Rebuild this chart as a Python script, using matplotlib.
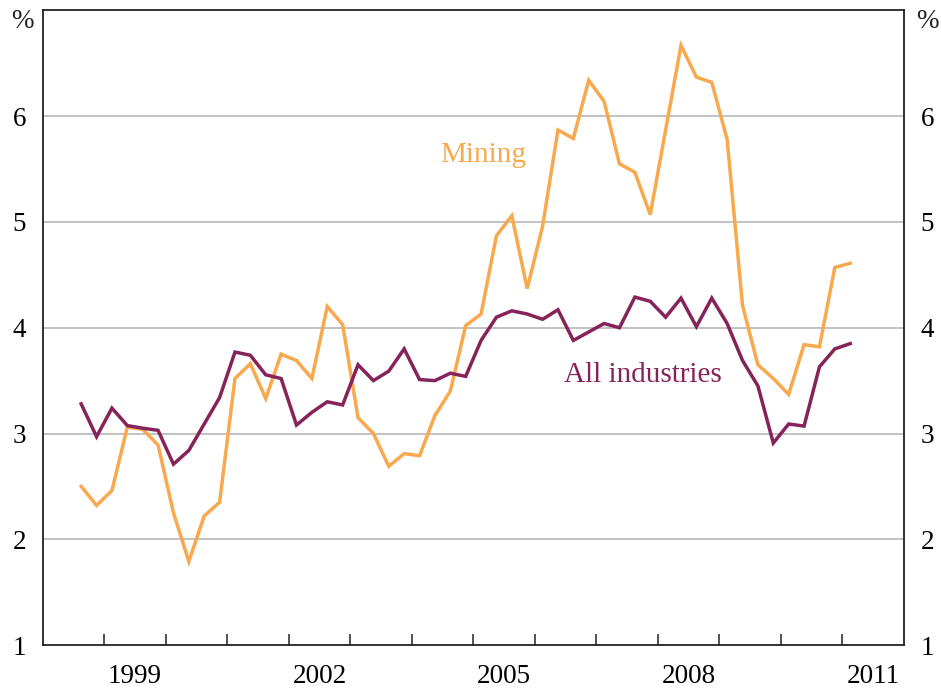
import matplotlib
matplotlib.use("Agg")
import matplotlib.pyplot as plt
import numpy as np
from matplotlib.ticker import FixedLocator, NullFormatter, FixedFormatter

# Quarterly data, 1998 Q3 to 2011 Q1 (plotted at quarter mid-points)
start_year = 1998.625
mining = [2.50, 2.32, 2.46, 3.06, 3.04, 2.89, 2.25, 1.79, 2.22, 2.35,
          3.52, 3.66, 3.33, 3.75, 3.69, 3.52, 4.20, 4.03, 3.15, 3.00,
          2.69, 2.81, 2.79, 3.17, 3.40, 4.02, 4.13, 4.87, 5.06, 4.37,
          4.96, 5.87, 5.79, 6.34, 6.14, 5.55, 5.47, 5.07, 5.87, 6.67,
          6.37, 6.32, 5.78, 4.21, 3.65, 3.52, 3.37, 3.84, 3.82, 4.57, 4.61]
all_industries = [3.28, 2.97, 3.24, 3.075, 3.05, 3.03, 2.71, 2.84, 3.09, 3.34,
                  3.77, 3.74, 3.555, 3.52, 3.08, 3.20, 3.30, 3.27, 3.65, 3.50,
                  3.59, 3.80, 3.51, 3.50, 3.57, 3.54, 3.88, 4.10, 4.16, 4.13,
                  4.08, 4.17, 3.88, 3.96, 4.04, 4.00, 4.29, 4.25, 4.10, 4.28,
                  4.01, 4.28, 4.04, 3.69, 3.45, 2.91, 3.09, 3.07, 3.63, 3.80, 3.85]
year_labels = ["1999", "2002", "2005", "2008", "2011"]
y_ticks = [1, 2, 3, 4, 5, 6]

x = start_year + 0.25 * np.arange(len(mining))

ORANGE = "#F9A94D"
PURPLE = "#86235A"
SERIF = ["Liberation Serif", "DejaVu Serif"]
FS = 19.5
FS_LAB = 21

fig = plt.figure(figsize=(9.41, 6.90), dpi=100)
ax = fig.add_axes([0.0454, 0.0652, 0.9153, 0.9196])

ax.plot(x, mining, color=ORANGE, lw=2.5, solid_joinstyle="miter", zorder=3)
ax.plot(x, all_industries, color=PURPLE, lw=2.5, solid_joinstyle="miter", zorder=3)

ax.set_xlim(1998, 2012)
ax.set_ylim(1, 7)

# gridlines
for yv in y_ticks[1:]:
    ax.axhline(yv, color="#BDBDBD", lw=1.3, zorder=1)

# x ticks: marks at year boundaries, labels in the middle of years
ax.xaxis.set_major_locator(FixedLocator(np.arange(1999, 2012)))
ax.xaxis.set_major_formatter(NullFormatter())
lab_pos = [int(s) + 0.5 for s in year_labels]
ax.xaxis.set_minor_locator(FixedLocator(lab_pos))
ax.xaxis.set_minor_formatter(FixedFormatter(year_labels))
ax.tick_params(axis="x", which="major", direction="in", length=8, width=1.1,
               color="#222222", top=False)
ax.tick_params(axis="x", which="minor", length=0, pad=14, labelsize=FS)
for t in ax.xaxis.get_minorticklabels():
    t.set_fontfamily(SERIF)

# y ticks on both sides, no tick marks
ax.set_yticks(y_ticks)
ax.set_yticklabels([str(v) for v in y_ticks])
ax.tick_params(axis="y", which="both", length=0, left=True, right=True,
               labelleft=True, labelright=True, labelsize=FS, pad=12)
for t in ax.yaxis.get_majorticklabels():
    t.set_fontfamily(SERIF)

for sp in ax.spines.values():
    sp.set_color("#222222")
    sp.set_linewidth(1.3)

# unit labels
fig.text(22 / 941, 1 - 22 / 690, "%", fontsize=FS, family=SERIF,
         ha="center", va="center", color="#222222")
fig.text(927 / 941, 1 - 22 / 690, "%", fontsize=FS, family=SERIF,
         ha="center", va="center", color="#222222")

# series labels
ax.text(1998 + (482 - 42.7) / 61.4, 1 + (645 - 154) / 105.9, "Mining",
        color=ORANGE, fontsize=FS_LAB, family=SERIF, ha="center", va="center")
ax.text(1998 + (642 - 42.7) / 61.4, 1 + (645 - 375) / 105.9, "All industries",
        color=PURPLE, fontsize=FS_LAB, family=SERIF, ha="center", va="center")

fig.savefig("out.png", dpi=100)
